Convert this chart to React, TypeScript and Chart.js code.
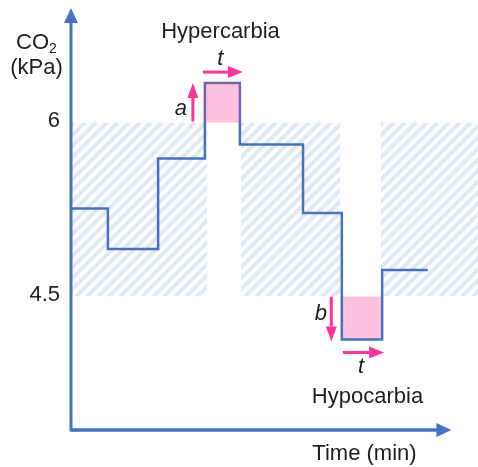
import React, { useEffect, useRef } from "react";
import { Chart, registerables } from "chart.js";

Chart.register(...registerables);

// ---- data ----
const stepTimes = [0, 0.97, 2.29, 3.52, 4.44, 6.1, 7.12, 8.18, 9.38];
const co2Levels = [5.26, 4.91, 5.69, 6.34, 5.81, 5.22, 4.13, 4.73];
const normalRange = [4.5, 6];
const normalPeriods = [
  [0, 3.58],
  [4.44, 7.07],
  [8.12, 10.7],
];
const hyperPeriod = [3.52, 4.44];
const hyperLevel = 6.34;
const hypoPeriod = [7.12, 8.18];
const hypoLevel = 4.13;
const yTickValues = [4.5, 6];
const yTickLabels = ["4.5", "6"];
const xAxisEnd = 10;

const BLUE = "#4472C4";
const PINK = "#FF3399";
const PINK_FILL = "rgba(255,51,153,0.3)";
const HATCH = "#DEE9F6";
const TEXT = "#1e1e1e";
const FONT = '"Liberation Sans", Arial, sans-serif';

function arrow(ctx: CanvasRenderingContext2D, x1: number, y1: number, x2: number, y2: number, color: string, lw: number, headLen: number, headW: number) {
  const ang = Math.atan2(y2 - y1, x2 - x1);
  const bx = x2 - headLen * Math.cos(ang);
  const by = y2 - headLen * Math.sin(ang);
  ctx.save();
  ctx.strokeStyle = color;
  ctx.fillStyle = color;
  ctx.lineWidth = lw;
  ctx.beginPath();
  ctx.moveTo(x1, y1);
  ctx.lineTo(bx, by);
  ctx.stroke();
  const px = -Math.sin(ang) * headW / 2;
  const py = Math.cos(ang) * headW / 2;
  ctx.beginPath();
  ctx.moveTo(x2, y2);
  ctx.lineTo(bx + px, by + py);
  ctx.lineTo(bx - px, by - py);
  ctx.closePath();
  ctx.fill();
  ctx.restore();
}

const decorPlugin = {
  id: "decor",
  beforeDatasetsDraw(chart: any) {
    const ctx: CanvasRenderingContext2D = chart.ctx;
    const xs = chart.scales.x;
    const ys = chart.scales.y;
    const yTop = ys.getPixelForValue(normalRange[1]);
    const yBot = ys.getPixelForValue(normalRange[0]);
    // hatched normal zones
    for (const [a, b] of normalPeriods) {
      const x0 = xs.getPixelForValue(a) + 1;
      const x1 = xs.getPixelForValue(b);
      ctx.save();
      ctx.beginPath();
      ctx.rect(x0, yTop, x1 - x0, yBot - yTop);
      ctx.clip();
      ctx.strokeStyle = HATCH;
      ctx.lineWidth = 4;
      const h = yBot - yTop;
      for (let x = x0 - h - 20; x < x1 + 20; x += 11) {
        ctx.beginPath();
        ctx.moveTo(x, yBot);
        ctx.lineTo(x + h, yTop);
        ctx.stroke();
      }
      ctx.restore();
    }
    // hypocarbia box (under the line)
    ctx.save();
    ctx.fillStyle = PINK_FILL;
    const hx0 = xs.getPixelForValue(hypoPeriod[0]);
    const hx1 = xs.getPixelForValue(hypoPeriod[1]);
    const hy0 = ys.getPixelForValue(normalRange[0]);
    const hy1 = ys.getPixelForValue(hypoLevel);
    ctx.fillRect(hx0, hy0, hx1 - hx0, hy1 - hy0);
    ctx.restore();
  },
  afterDatasetsDraw(chart: any) {
    const ctx: CanvasRenderingContext2D = chart.ctx;
    const xs = chart.scales.x;
    const ys = chart.scales.y;
    // hypercarbia box (over the line)
    const x0 = xs.getPixelForValue(hyperPeriod[0]);
    const x1 = xs.getPixelForValue(hyperPeriod[1]);
    const y0 = ys.getPixelForValue(hyperLevel);
    const y1 = ys.getPixelForValue(normalRange[1]);
    ctx.save();
    ctx.fillStyle = PINK_FILL;
    ctx.fillRect(x0 - 1, y0 - 1, x1 - x0 + 2, y1 - y0 + 1);
    ctx.restore();
  },
  afterDraw(chart: any) {
    const ctx: CanvasRenderingContext2D = chart.ctx;
    const xs = chart.scales.x;
    const ys = chart.scales.y;
    const area = chart.chartArea;
    const ox = area.left;
    const oy = area.bottom;
    // axes
    ctx.save();
    ctx.strokeStyle = BLUE;
    ctx.lineWidth = 3;
    ctx.beginPath();
    ctx.moveTo(ox, oy);
    ctx.lineTo(xs.getPixelForValue(xAxisEnd) - 12, oy);
    ctx.stroke();
    ctx.restore();
    arrow(ctx, ox, oy + 1.5, ox, area.top - 2, BLUE, 3, 15, 14);
    arrow(ctx, ox, oy, xs.getPixelForValue(xAxisEnd), oy, BLUE, 3, 15, 14);

    ctx.save();
    ctx.fillStyle = TEXT;
    ctx.textBaseline = "alphabetic";
    // y tick labels
    ctx.font = `22px ${FONT}`;
    ctx.textAlign = "right";
    yTickValues.forEach((v, i) => {
      ctx.fillText(yTickLabels[i], ox - 11, ys.getPixelForValue(v) + 4.5);
    });
    // y axis title CO2 (kPa)
    ctx.textAlign = "left";
    ctx.font = `22px ${FONT}`;
    const coW = ctx.measureText("CO").width;
    ctx.font = `14px ${FONT}`;
    const twoW = ctx.measureText("2").width;
    const cx = 36.5;
    const startX = cx - (coW + twoW) / 2;
    ctx.font = `22px ${FONT}`;
    ctx.fillText("CO", startX, 49);
    ctx.font = `14px ${FONT}`;
    ctx.fillText("2", startX + coW, 53);
    ctx.font = `22px ${FONT}`;
    ctx.textAlign = "center";
    ctx.fillText("(kPa)", cx, 74);
    // labels
    ctx.fillText("Hypercarbia", 220.5, 38);
    ctx.fillText("Hypocarbia", 367.5, 403);
    ctx.fillText("Time (min)", 364.5, 460);
    ctx.font = `italic 22px ${FONT}`;
    const hx0 = xs.getPixelForValue(hyperPeriod[0]);
    const hx1 = xs.getPixelForValue(hyperPeriod[1]);
    const hyTop = ys.getPixelForValue(hyperLevel);
    const hyBase = ys.getPixelForValue(normalRange[1]);
    const lx0 = xs.getPixelForValue(hypoPeriod[0]);
    const lx1 = xs.getPixelForValue(hypoPeriod[1]);
    const lyBot = ys.getPixelForValue(hypoLevel);
    const lyBase = ys.getPixelForValue(normalRange[0]);
    ctx.fillText("t", (hx0 + hx1) / 2 - 2, hyTop - 18);
    ctx.fillText("a", hx0 - 24, hyBase - 8);
    ctx.fillText("b", lx0 - 21, lyBase + 23);
    ctx.fillText("t", (lx0 + lx1) / 2 - 1, lyBot + 33);
    ctx.restore();

    // pink arrows
    arrow(ctx, hx0 - 2, hyTop - 11, hx1 + 3, hyTop - 11, PINK, 3, 15, 12);
    arrow(ctx, hx0 - 12, hyBase - 1, hx0 - 12, hyTop, PINK, 3, 15, 11);
    arrow(ctx, lx0 - 10.5, lyBase, lx0 - 10.5, lyBot + 2, PINK, 3, 15, 11);
    arrow(ctx, lx0 + 1, lyBot + 13, lx1 + 2, lyBot + 13, PINK, 3, 15, 12);
  },
};

export default function App() {
  const ref = useRef<HTMLCanvasElement | null>(null);
  useEffect(() => {
    if (!ref.current) return;
    const points = stepTimes.map((t, i) => ({
      x: t,
      y: co2Levels[Math.min(i, co2Levels.length - 1)],
    }));
    const chart = new Chart(ref.current, {
      type: "line",
      data: {
        datasets: [
          {
            data: points,
            borderColor: BLUE,
            borderWidth: 2.5,
            stepped: "before",
            pointRadius: 0,
            fill: false,
            borderJoinStyle: "miter",
          } as any,
        ],
      },
      options: {
        responsive: false,
        animation: false,
        devicePixelRatio: 1,
        layout: { padding: { left: 71, top: 10, right: 0, bottom: 37 } },
        plugins: { legend: { display: false }, tooltip: { enabled: false } },
        scales: {
          x: { type: "linear", min: 0, max: 10.7, display: false },
          y: { type: "linear", min: 3.35, max: 6.97, display: false },
        },
      },
      plugins: [decorPlugin],
    });
    return () => chart.destroy();
  }, []);
  return (
    <div style={{ position: "absolute", left: 0, top: 0, width: 478, height: 467, background: "#fff" }}>
      <canvas ref={ref} width={478} height={467} style={{ display: "block" }} />
    </div>
  );
}
